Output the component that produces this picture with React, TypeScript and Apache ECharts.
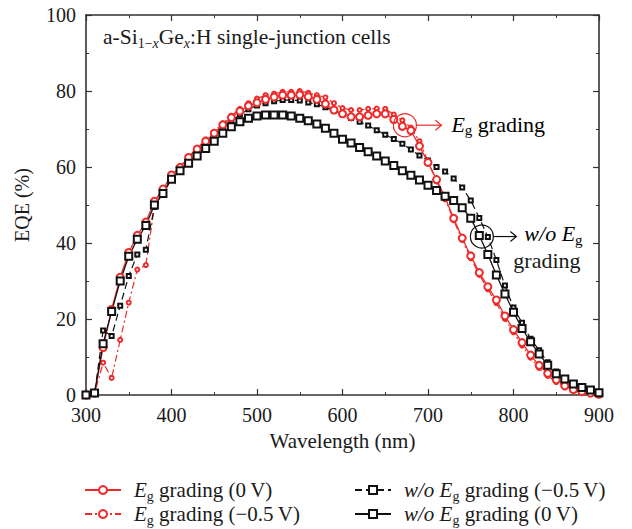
import React, { useEffect, useRef } from "react";
import * as echarts from "echarts";

const wavelengths = [
  300, 310, 320, 330, 340, 350, 360, 370, 380, 390, 400, 410, 420, 430, 440, 450, 460, 470, 480, 490,
  500, 510, 520, 530, 540, 550, 560, 570, 580, 590, 600, 610, 620, 630, 640, 650, 660, 670, 680, 690,
  700, 710, 720, 730, 740, 750, 760, 770, 780, 790, 800, 810, 820, 830, 840, 850, 860, 870, 880, 890, 900,
];

const egGrading0V = [
  0, 0.5, 12.5, 22.5, 31, 37.5, 42, 45.5, 51, 54.2, 57.9, 59.9, 62.5, 64.7, 66.8, 68.9, 71.1, 73, 74.7, 76.1,
  76.9, 77.8, 78.4, 78.9, 78.9, 79, 78.5, 77.8, 76.6, 75, 74, 73.2, 73.2, 73.6, 74, 74, 72.5, 70.7, 69.6, 65.5,
  61.2, 56.7, 52, 46.5, 41.3, 36.6, 32.2, 28.5, 25, 20.8, 17.2, 13.8, 10.5, 7.8, 5.7, 4, 2.4, 1.4, 0.9, 0.5, 0.2,
];

const egGradingM05V = [
  0, 0.3, 8.5, 4.5, 14.5, 24.3, 33, 34.2, 49.5, 53.8, 57.8, 60, 62.7, 65, 67.2, 69.3, 71.5, 73.5, 75.3, 76.8,
  78, 78.9, 79.3, 79.8, 79.8, 80, 79.5, 78.9, 78.3, 76.8, 75.5, 75, 75, 75.3, 75.4, 75.3, 73.8, 72.3, 70.4, 66.8,
  61.5, 56.2, 51.5, 46, 40.8, 36, 31.6, 27.8, 24.2, 20, 16.5, 13, 9.8, 7.1, 5, 3.4, 2, 1.1, 0.6, 0.3, 0,
];

const woGradingM05V = [
  0, 0.3, 17, 15.5, 23.5, 31.3, 37, 38.2, 49.5, 53.2, 57, 59.3, 61.8, 64, 66.1, 68.2, 70.2, 72, 73.8, 75.2,
  76.2, 76.8, 77.3, 77.6, 77.6, 77.5, 77, 76.5, 75.7, 74.8, 73.9, 72.9, 71.9, 70.9, 69.7, 68.5, 67.4, 66.1, 64.6, 63,
  61.7, 60, 58.8, 57, 54.6, 51.2, 46.6, 41.6, 35.5, 28.8, 23, 19, 14.8, 11.8, 8.6, 6.2, 4.5, 3, 2, 1.3, 0.6,
];

const woGrading0V = [
  0, 0.5, 13.5, 22, 30, 36.5, 41, 44.6, 50, 53, 56.8, 59, 61, 62.9, 64.9, 66.8, 68.9, 70.6, 71.9, 72.8,
  73.4, 73.7, 73.7, 73.7, 73.4, 72.8, 72.2, 71.3, 70.2, 68.9, 67.3, 66.3, 65.1, 64, 62.9, 61.6, 60.4, 59, 57.8, 56.6,
  55.2, 53.8, 52.3, 51.2, 49.3, 46.5, 42, 37, 31.6, 26.6, 21.8, 17.5, 14, 10.8, 7.8, 5.6, 4.2, 2.9, 2, 1.3, 0.6,
];

const seriesNames = [
  "Eg grading (0 V)",
  "Eg grading (\u22120.5 V)",
  "w/o Eg grading (\u22120.5 V)",
  "w/o Eg grading (0 V)",
];

const legendLabels: Record<string, string> = {
  "Eg grading (0 V)": "{i|E}{s|g}{n| grading (0\u2009V)}",
  "Eg grading (\u22120.5 V)": "{i|E}{s|g}{n| grading (\u22120.5\u2009V)}",
  "w/o Eg grading (\u22120.5 V)": "{i|w/o E}{s|g}{n| grading (\u22120.5\u2009V)}",
  "w/o Eg grading (0 V)": "{i|w/o E}{s|g}{n| grading (0\u2009V)}",
};

const xTicks = { min: 300, max: 900, interval: 100 };
const yTicks = { min: 0, max: 100, interval: 20 };

const FONT = '"Liberation Serif", "Times New Roman", serif';
const RED = "#ee2a2a";
const BLACK = "#111111";
const AXIS = "#333333";
const TEXT = "#1a1a1a";

const richStyles = (color: string, size: number, lh?: number) => ({
  i: { fontStyle: "italic", fontWeight: "normal", fontSize: size, fontFamily: FONT, color, lineHeight: lh ?? size + 2 },
  n: { fontSize: size, fontWeight: "normal", fontFamily: FONT, color, lineHeight: lh ?? size + 2 },
  s: { fontSize: Math.round(size * 0.68), fontWeight: "normal", fontFamily: FONT, color, lineHeight: 8, padding: [Math.round(size * 0.55), 0, 0, 0] },
});

function pairs(ys: number[]) {
  return wavelengths.map((w, i) => [w, ys[i]]);
}

export default function App() {
  const ref = useRef<HTMLDivElement>(null);

  useEffect(() => {
    if (!ref.current) return;
    const chart = echarts.init(ref.current, undefined, { renderer: "svg" });

    const axisCommon = {
      type: "value" as const,
      axisLine: { show: true, onZero: false, lineStyle: { color: AXIS, width: 1.6 } },
      axisTick: { show: true, inside: true, length: 6, lineStyle: { color: AXIS, width: 1.2 } },
      minorTick: { show: true, splitNumber: 2, length: 3, lineStyle: { color: AXIS, width: 1 } },
      splitLine: { show: false },
      minorSplitLine: { show: false },
    };

    const labelStyle = { fontSize: 20, fontFamily: FONT, color: TEXT, lineHeight: 16 };

    const legendPos = [
      { left: 84, top: 477 },
      { left: 84, top: 501 },
      { left: 354, top: 477 },
      { left: 354, top: 501 },
    ];

    const option: any = {
      animation: false,
      backgroundColor: "#ffffff",
      title: {
        text: "{n|a-Si}{s|1\u2212}{si|x}{n|Ge}{si|x}{n|:H single-junction cells}",
        left: 103,
        top: 26,
        padding: 0,
        textStyle: {
          fontWeight: "normal",
          rich: {
            n: { fontSize: 21.5, fontWeight: "normal", fontFamily: FONT, color: TEXT, lineHeight: 22 },
            s: { fontSize: 14, fontWeight: "normal", fontFamily: FONT, color: TEXT, lineHeight: 10, padding: [12, 0, 0, 0] },
            si: { fontSize: 14, fontWeight: "normal", fontStyle: "italic", fontFamily: FONT, color: TEXT, lineHeight: 10, padding: [12, 0, 0, 0] },
          },
        },
      },
      grid: { left: 86, right: 33, top: 15, bottom: 134, containLabel: false },
      legend: seriesNames.map((name, k) => ({
        data: [name],
        left: legendPos[k].left,
        top: legendPos[k].top,
        padding: 0,
        itemWidth: 36,
        itemHeight: 10,
        selectedMode: false,
        formatter: (n: string) => legendLabels[n],
        textStyle: { padding: [0, 0, 0, 8], rich: richStyles(TEXT, 21) },
      })),
      xAxis: [
        {
          ...axisCommon,
          ...xTicks,
          position: "bottom",
          name: "Wavelength (nm)",
          nameLocation: "middle",
          nameGap: 35,
          nameTextStyle: { fontSize: 21, fontFamily: FONT, color: TEXT },
          axisLabel: { ...labelStyle, margin: 12 },
        },
        {
          ...axisCommon,
          ...xTicks,
          position: "top",
          axisLabel: { show: false },
        },
      ],
      yAxis: [
        {
          ...axisCommon,
          ...yTicks,
          position: "left",
          name: "EQE (%)",
          nameLocation: "middle",
          nameGap: 54,
          nameTextStyle: { fontSize: 20, fontFamily: FONT, color: TEXT },
          axisLabel: { ...labelStyle, margin: 10 },
        },
        {
          ...axisCommon,
          ...yTicks,
          position: "right",
          axisLabel: { show: false },
        },
      ],
      series: [
        {
          name: seriesNames[0],
          type: "line",
          data: pairs(egGrading0V),
          symbol: "emptyCircle",
          symbolSize: 7,
          color: RED,
          lineStyle: { color: RED, width: 1.3 },
          itemStyle: { color: RED, borderWidth: 1.2 },
          z: 3,
        },
        {
          name: seriesNames[1],
          type: "line",
          data: pairs(egGradingM05V),
          symbol: "emptyCircle",
          symbolSize: 4,
          color: RED,
          lineStyle: { color: RED, width: 1.2, type: [7, 3, 2, 3] },
          itemStyle: { color: RED, borderWidth: 1 },
          z: 2,
        },
        {
          name: seriesNames[2],
          type: "line",
          data: pairs(woGradingM05V),
          symbol: "emptyRect",
          symbolSize: 4,
          color: BLACK,
          lineStyle: { color: BLACK, width: 1.2, type: [7, 4] },
          itemStyle: { color: BLACK, borderWidth: 1 },
          z: 2,
        },
        {
          name: seriesNames[3],
          type: "line",
          data: pairs(woGrading0V),
          symbol: "emptyRect",
          symbolSize: 7,
          color: BLACK,
          lineStyle: { color: BLACK, width: 1.3 },
          itemStyle: { color: BLACK, borderWidth: 1.2 },
          z: 3,
        },
      ],
    };

    chart.setOption(option);

    const p1 = chart.convertToPixel({ xAxisIndex: 0, yAxisIndex: 0 }, [673, 71]) as number[];
    const p2 = chart.convertToPixel({ xAxisIndex: 0, yAxisIndex: 0 }, [763, 41.7]) as number[];
    const r = 11.5;

    const arrow = (x: number, y: number, len: number, color: string, id: string) => [
      {
        type: "line",
        id: id + "-shaft",
        shape: { x1: x, y1: y, x2: x + len, y2: y },
        style: { stroke: color, lineWidth: 1.2 },
        z: 10,
      },
      {
        type: "polyline",
        id: id + "-head",
        shape: { points: [[x + len - 6, y - 5], [x + len, y], [x + len - 6, y + 5]] },
        style: { stroke: color, lineWidth: 1.2, fill: "none" },
        z: 10,
      },
    ];

    chart.setOption({
      graphic: [
        {
          type: "circle",
          id: "c1",
          shape: { cx: p1[0], cy: p1[1], r },
          style: { fill: "none", stroke: RED, lineWidth: 1.2 },
          z: 10,
        },
        ...arrow(p1[0] + r, p1[1], 25, RED, "a1"),
        {
          type: "text",
          id: "t1",
          x: p1[0] + r + 35,
          y: p1[1] - 13,
          style: {
            text: "{i|E}{s|g}{n| grading}",
            rich: richStyles(RED, 22),
          },
          z: 10,
        },
        {
          type: "circle",
          id: "c2",
          shape: { cx: p2[0], cy: p2[1], r },
          style: { fill: "none", stroke: BLACK, lineWidth: 1.2 },
          z: 10,
        },
        ...arrow(p2[0] + r, p2[1], 23, BLACK, "a2"),
        {
          type: "text",
          id: "t2",
          x: p2[0] + r + 31,
          y: p2[1] - 13,
          style: {
            text: "{i|w/o E}{s|g}",
            rich: richStyles(TEXT, 22, 20),
          },
          z: 10,
        },
        {
          type: "text",
          id: "t3",
          x: p2[0] + r + 20,
          y: p2[1] + 13,
          style: {
            text: "grading",
            fontSize: 22,
            fontFamily: FONT,
            fill: TEXT,
          },
          z: 10,
        },
      ],
    });

    return () => chart.dispose();
  }, []);

  return (
    <div
      ref={ref}
      style={{ position: "fixed", left: 0, top: 0, width: 632, height: 529 }}
    />
  );
}
